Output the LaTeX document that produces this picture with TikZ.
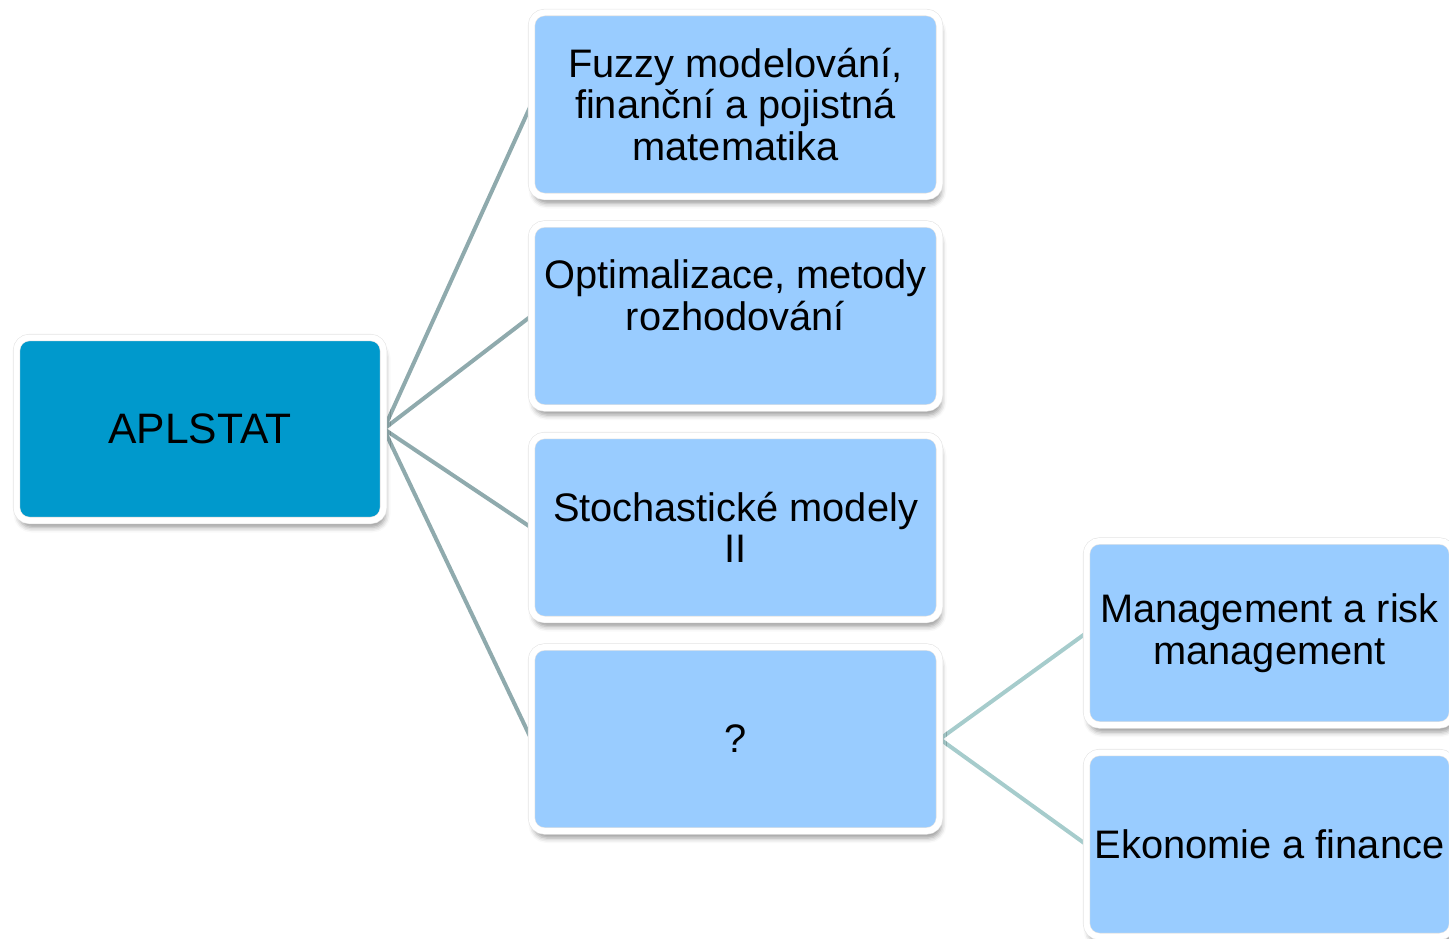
\documentclass[tikz,border=0pt]{standalone}
\usepackage{fontspec}
\setmainfont{Liberation Sans}
\usetikzlibrary{shadows.blur,backgrounds}
\definecolor{darkfill}{HTML}{0099CC}
\definecolor{lightfill}{HTML}{99CCFF}
\definecolor{lineA}{HTML}{8FAAAD}
\definecolor{lineB}{HTML}{A6CCCC}
\definecolor{rimgray}{HTML}{E4E4E4}
\tikzset{
  box/.style={rectangle, rounded corners=13pt, draw=rimgray, double=white,
    double distance=6pt, line width=0.6pt,
    fill=lightfill, inner sep=0pt, minimum width=408pt, minimum height=184pt,
    align=center, font=\fontsize{39.8}{41.5}\selectfont,
    blur shadow={shadow xshift=2pt, shadow yshift=-7pt, shadow blur radius=5pt, shadow opacity=40}},
  rootbox/.style={box, fill=darkfill, minimum width=367pt, minimum height=183pt,
    font=\fontsize{42.6}{50}\selectfont},
  subbox/.style={box, minimum width=366pt},
  linkA/.style={draw=lineA, line width=4pt},
  linkB/.style={draw=lineB, line width=4pt}
}
\begin{document}
\begin{tikzpicture}[x=1pt,y=-1pt]
\useasboundingbox (0,0) rectangle (1449,939);
\clip (0,0) rectangle (1449,939);
\node[rootbox] (root) at (200,429) {APLSTAT};
\node[box] (fuzzy) at (735.5,104.5) {Fuzzy modelování,\\finanční a pojistná\\matematika};
\node[box] (opt) at (735.5,316) {Optimalizace, metody\\rozhodování\\[-12pt]\strut};
\node[box] (stoch) at (735.5,527.5) {Stochastické modely\\II};
\node[box] (q) at (735.5,739) {?};
\node[subbox] (mgmt) at (1269.5,633) {Management a risk\\management};
\node[subbox] (eko) at (1269.5,844.5) {Ekonomie a finance};
\begin{scope}[on background layer]
\draw[linkA] (root.east) -- (fuzzy.west);
\draw[linkA] (root.east) -- (opt.west);
\draw[linkA] (root.east) -- (stoch.west);
\draw[linkA] (root.east) -- (q.west);
\draw[linkB] (q.east) -- (mgmt.west);
\draw[linkB] (q.east) -- (eko.west);
\end{scope}
\end{tikzpicture}
\end{document}
